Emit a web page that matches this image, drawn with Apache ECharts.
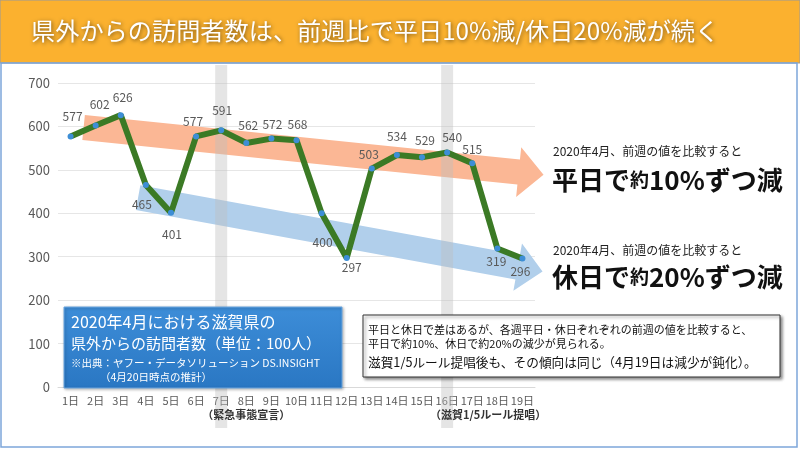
<!DOCTYPE html>
<html><head><meta charset="utf-8">
<script src="https://cdn.jsdelivr.net/npm/echarts@6/dist/echarts.min.js"></script>
<style>html,body{margin:0;padding:0;background:#fff;}#c{width:800px;height:449px;}</style>
</head><body><div id="c"></div>
<script>
const categories = ['1日','2日','3日','4日','5日','6日','7日','8日','9日','10日','11日','12日','13日','14日','15日','16日','17日','18日','19日'];
const visitors = [577,602,626,465,401,577,591,562,572,568,400,297,503,534,529,540,515,319,296];
const yMin = 0, yMax = 700, yStep = 100;
const highlightDays = ['7日','16日'];
const eventNotes = ['（緊急事態宣言）','（滋賀1/5ルール提唱）'];
const titleText = '県外からの訪問者数は、前週比で平日10%減/休日20%減が続く';

// label placement (layout only): [position, dx, dy]
const labelLayout = [
 ['top',2,-6],['top',4,-7],['top',2,-4],['bottom',-4,5],['bottom',1,8],['top',-3,-1],['top',1,-6],
 ['top',2,-3],['top',1,0],['top',1,-2],['bottom',1,15],['bottom',5,-5],['top',-3,0],['top',0,-5],
 ['top',3,-3],['top',5,-1],['top',0,0],['bottom',-1,-1],['bottom',-2,-1]
];

const FONT = '"Noto Sans CJK JP", "Noto Sans", sans-serif';
const chart = echarts.init(document.getElementById('c'), null, {renderer:'canvas'});

chart.setOption({
  animation:false,
  textStyle:{fontFamily:FONT},
  grid:{left:58, right:265, top:83, bottom:62},
  xAxis:{type:'category', data:categories, boundaryGap:true,
    axisLine:{show:true, lineStyle:{color:'#d9d9d9'}}, axisTick:{show:false},
    axisLabel:{color:'#595959', fontSize:11, margin:8, interval:0, fontFamily:FONT}},
  yAxis:{type:'value', min:yMin, max:yMax, interval:yStep,
    axisLine:{show:false}, axisTick:{show:false},
    splitLine:{lineStyle:{color:'#e6e6e6'}},
    axisLabel:{color:'#595959', fontSize:13, margin:8, fontFamily:FONT}},
  series:[{
    type:'line', z:5,
    data: visitors.map((v,i)=>({value:v, label:{position:labelLayout[i][0], offset:[labelLayout[i][1],labelLayout[i][2]]}})),
    lineStyle:{color:'#3b7a25', width:6},
    itemStyle:{color:'#3d8ed6', borderWidth:0},
    symbol:'circle', symbolSize:6, showSymbol:true,
    label:{show:true, color:'#595959', fontSize:12, distance:5, fontFamily:FONT}
  }]
});

function toPx(i, v){
  const a = chart.convertToPixel({gridIndex:0}, [0, v]);
  const b = chart.convertToPixel({gridIndex:0}, [categories.length-1, v]);
  return [a[0] + (b[0]-a[0]) * i / (categories.length-1), a[1]];
}
function arrow(start, shaftEnd, tip, w, headW){
  const dx = tip[0]-start[0], dy = tip[1]-start[1];
  const L = Math.hypot(dx,dy); const nx = -dy/L, ny = dx/L;
  const h = w/2, H = headW/2;
  return [
    [start[0]+nx*h, start[1]+ny*h],
    [shaftEnd[0]+nx*h, shaftEnd[1]+ny*h],
    [shaftEnd[0]+nx*H, shaftEnd[1]+ny*H],
    tip,
    [shaftEnd[0]-nx*H, shaftEnd[1]-ny*H],
    [shaftEnd[0]-nx*h, shaftEnd[1]-ny*h],
    [start[0]-nx*h, start[1]-ny*h]
  ];
}
const orangeArrow = arrow(toPx(0.52,597.5), toPx(17.85,495), toPx(18.84,489), 25, 50);
const blueArrow = arrow(toPx(2.69,436), toPx(17.81,276), toPx(18.8,266), 25, 48);

const graphics = [];
// title bar
graphics.push({type:'rect', shape:{x:0,y:0,width:800,height:63}, style:{fill:'#fbb12f', stroke:'#9a9a9a', lineWidth:1}, z:0});
graphics.push({type:'text', x:31, y:31, style:{text:titleText, fill:'#fff', font:'normal 24.2px '+FONT, textVerticalAlign:'middle',
  textShadowColor:'rgba(0,0,0,0.55)', textShadowBlur:4, textShadowOffsetX:1, textShadowOffsetY:1}, z:10});
// frame border
graphics.push({type:'rect', shape:{x:1,y:63,width:796,height:384}, style:{fill:null, stroke:'#7ea6da', lineWidth:1.5}, z:0});
// arrows
graphics.push({type:'polygon', shape:{points:orangeArrow}, style:{fill:'#fbb795'}, z:1});
graphics.push({type:'polygon', shape:{points:blueArrow}, style:{fill:'#b1cfeb'}, z:1});
// highlight bands
highlightDays.forEach((d)=>{
  const p = chart.convertToPixel({gridIndex:0}, [d, 0]);
  graphics.push({type:'rect', shape:{x:p[0]-6, y:65, width:12, height:363}, style:{fill:'rgba(190,190,190,0.4)'}, z:2});
});
// event notes
eventNotes.forEach((t,k)=>{
  const p = chart.convertToPixel({gridIndex:0}, [highlightDays[k], 0]);
  const off = k===0 ? 25 : 41;
  graphics.push({type:'text', x:p[0]+off, y:415, style:{text:t, fill:'#333', font:'bold 11px '+FONT, textAlign:'center', textVerticalAlign:'middle'}, z:10});
});
// right side texts
graphics.push({type:'text', x:553, y:151, style:{text:'2020年4月、前週の値を比較すると', fill:'#222', font:'12px '+FONT, textVerticalAlign:'middle'}, z:10});
graphics.push({type:'text', x:552, y:180, style:{text:'{a|平日で}{b|約}{a|10%ずつ減}', textVerticalAlign:'middle',
  rich:{a:{fontSize:26, fontWeight:'bold', fill:'#111', fontFamily:FONT}, b:{fontSize:19, fontWeight:'bold', fill:'#111', fontFamily:FONT}}}, z:10});
graphics.push({type:'text', x:553, y:250, style:{text:'2020年4月、前週の値を比較すると', fill:'#222', font:'12px '+FONT, textVerticalAlign:'middle'}, z:10});
graphics.push({type:'text', x:552, y:277, style:{text:'{a|休日で}{b|約}{a|20%ずつ減}', textVerticalAlign:'middle',
  rich:{a:{fontSize:26, fontWeight:'bold', fill:'#111', fontFamily:FONT}, b:{fontSize:19, fontWeight:'bold', fill:'#111', fontFamily:FONT}}}, z:10});
// blue info box
graphics.push({type:'rect', shape:{x:64,y:307,width:278,height:81},
  style:{fill:new echarts.graphic.LinearGradient(0,0,0,1,[{offset:0,color:'#3d8dd8'},{offset:1,color:'#2a77c3'}]),
    stroke:'#6aa6e0', lineWidth:1, shadowColor:'rgba(0,0,0,0.3)', shadowBlur:3, shadowOffsetX:1, shadowOffsetY:1}, z:8});
graphics.push({type:'text', x:71, y:322, style:{text:'2020年4月における滋賀県の', fill:'#fff', font:'16px '+FONT, textVerticalAlign:'middle'}, z:10});
graphics.push({type:'text', x:71, y:343, style:{text:'県外からの訪問者数（単位：100人）', fill:'#fff', font:'15px '+FONT, textVerticalAlign:'middle'}, z:10});
graphics.push({type:'text', x:71, y:363, style:{text:'※出典：ヤフー・データソリューション DS.INSIGHT', fill:'#fff', font:'10.5px '+FONT, textVerticalAlign:'middle'}, z:10});
graphics.push({type:'text', x:100, y:377, style:{text:'（4月20日時点の推計）', fill:'#fff', font:'10.5px '+FONT, textVerticalAlign:'middle'}, z:10});
// note box
graphics.push({type:'rect', shape:{x:363,y:315,width:417,height:62},
  style:{fill:'#fff', stroke:'#333', lineWidth:1, shadowColor:'rgba(0,0,0,0.45)', shadowBlur:3, shadowOffsetX:2, shadowOffsetY:2}, z:8});
graphics.push({type:'text', x:368, y:330, style:{text:'平日と休日で差はあるが、各週平日・休日ぞれぞれの前週の値を比較すると、', fill:'#111', font:'11px '+FONT, textVerticalAlign:'middle'}, z:10});
graphics.push({type:'text', x:368, y:344, style:{text:'平日で約10%、休日で約20%の減少が見られる。', fill:'#111', font:'11px '+FONT, textVerticalAlign:'middle'}, z:10});
graphics.push({type:'text', x:368, y:362, style:{text:'滋賀1/5ルール提唱後も、その傾向は同じ（4月19日は減少が鈍化）。', fill:'#111', font:'12.7px '+FONT, textVerticalAlign:'middle'}, z:10});

chart.setOption({graphic:{elements:graphics}});
</script></body></html>
